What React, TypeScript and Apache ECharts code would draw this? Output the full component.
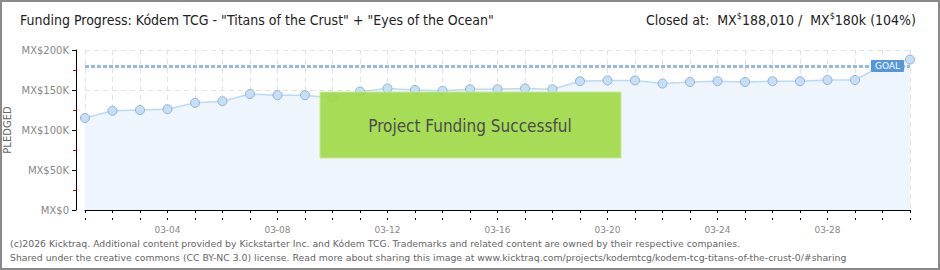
import React, { useEffect, useRef } from "react";
import * as echarts from "echarts";

const dates = [
  "03-01","03-02","03-03","03-04","03-05","03-06","03-07","03-08","03-09","03-10",
  "03-11","03-12","03-13","03-14","03-15","03-16","03-17","03-18","03-19","03-20",
  "03-21","03-22","03-23","03-24","03-25","03-26","03-27","03-28","03-29","03-30","03-31",
];
const pledged = [
  115000,124000,125000,126000,134000,136000,145000,143500,143500,140000,
  148000,152000,150000,149000,151000,151000,152000,151000,161000,162000,
  162000,158000,160000,161000,160000,161000,161000,162500,162500,181000,188010,
];
const goal = 180000;
const yTicks = [0, 50000, 100000, 150000, 200000];
const titleText = 'Funding Progress: Kódem TCG - "Titans of the Crust" + "Eyes of the Ocean"';
const closedText = "{n|Closed at:  MX}{s|$}{n|188,010 /  MX}{s|$}{n|180k (104%)}";
const footer1 = "(c)2026 Kicktraq. Additional content provided by Kickstarter Inc. and Kódem TCG. Trademarks and related content are owned by their respective companies.";
const footer2 = "Shared under the creative commons (CC BY-NC 3.0) license. Read more about sharing this image at www.kicktraq.com/projects/kodemtcg/kodem-tcg-titans-of-the-crust-0/#sharing";
const bannerText = "Project Funding Successful";

const headFont = "'DejaVu Sans Condensed', sans-serif";
const smallFont = "'DejaVu Sans', sans-serif";

export default function App() {
  const ref = useRef<HTMLDivElement>(null);
  useEffect(() => {
    document.body.style.margin = "0";
    if (!ref.current) return;
    const chart = echarts.init(ref.current, undefined, { renderer: "svg" });
    const grid = { left: 85, right: 30, top: 50, bottom: 60 };
    chart.setOption({
      animation: false,
      backgroundColor: "#ffffff",
      grid,
      xAxis: [
        {
          type: "category",
          data: dates,
          boundaryGap: false,
          position: "bottom",
          offset: 10,
          axisLine: { show: true, lineStyle: { color: "#000", width: 1 } },
          axisTick: { show: true, interval: 0, length: 3, lineStyle: { color: "#000" } },
          axisLabel: {
            interval: (i: number) => i % 4 === 3,
            color: "#888",
            fontSize: 9,
            fontFamily: smallFont,
            margin: 5,
          },
          splitLine: {
            show: true,
            interval: 0,
            lineStyle: { color: "#e2e2e2", type: [5, 4], width: 1 },
          },
        },
        {
          type: "category",
          data: dates,
          boundaryGap: false,
          position: "bottom",
          offset: 10,
          axisLine: { show: false },
          axisTick: { show: true, inside: true, interval: 0, length: 2, lineStyle: { color: "#000" } },
          axisLabel: { show: false },
          splitLine: { show: false },
        },
      ],
      yAxis: {
        type: "value",
        min: yTicks[0],
        max: yTicks[yTicks.length - 1],
        interval: 50000,
        offset: 9,
        axisLine: { show: true, lineStyle: { color: "#000", width: 1 } },
        axisTick: { show: true, length: 4, lineStyle: { color: "#000" } },
        minorTick: { show: true, splitNumber: 2, length: 3, lineStyle: { color: "#e00000" } },
        axisLabel: {
          color: "#888",
          fontSize: 10,
          fontFamily: smallFont,
          margin: 7,
          formatter: (v: number) => (v === 0 ? "MX$0" : "MX$" + v / 1000 + "K"),
        },
        splitLine: { show: true, lineStyle: { color: "#e2e2e2", type: [5, 4], width: 1 } },
      },
      series: [
        {
          type: "line",
          data: pledged,
          symbol: "circle",
          symbolSize: 9,
          showAllSymbol: true,
          lineStyle: { color: "#bcd9f5", width: 1.5 },
          itemStyle: { color: "#c6dff8", borderColor: "#92b1d4", borderWidth: 1 },
          areaStyle: { color: "#eef5fd", opacity: 1 },
          markLine: {
            silent: true,
            symbol: "none",
            data: [{ yAxis: goal }],
            lineStyle: { color: "#93b9e4", width: 3, type: [4, 2] },
            label: {
              show: true,
              formatter: "GOAL",
              position: "insideEnd",
              distance: 6,
              color: "#ffffff",
              fontSize: 9,
              fontFamily: smallFont,
              backgroundColor: "#5597dc",
              padding: [2, 4, 1, 4],
              borderRadius: 1,
            },
          },
          z: 2,
        },
      ],
      graphic: [
        {
          type: "rect",
          shape: { x: 1, y: 1, width: 938, height: 268 },
          style: { fill: "none", stroke: "#8a8a8a", lineWidth: 2 },
          z: 100,
        },
        {
          type: "text",
          x: 20,
          y: 20,
          style: {
            text: titleText,
            fontSize: 14,
            fontFamily: headFont,
            fill: "#222",
            verticalAlign: "middle",
            align: "left",
          },
        },
        {
          type: "text",
          x: 916,
          y: 20,
          style: {
            text: closedText,
            align: "right",
            verticalAlign: "middle",
            fill: "#222",
            rich: {
              n: { fontSize: 14, fontFamily: headFont, fill: "#222", lineHeight: 18 },
              s: { fontSize: 9, fontFamily: headFont, fill: "#222", lineHeight: 18, verticalAlign: "top" },
            },
          },
        },
        {
          type: "text",
          x: 7,
          y: 130,
          rotation: Math.PI / 2,
          style: {
            text: "PLEDGED",
            fontSize: 10,
            fontFamily: smallFont,
            fill: "#666",
            align: "center",
            verticalAlign: "middle",
          },
        },
        {
          type: "rect",
          shape: { x: 320, y: 92, width: 301, height: 66 },
          style: { fill: "rgba(160,217,72,0.92)", stroke: "#c8e89a", lineWidth: 1 },
          z: 50,
        },
        {
          type: "text",
          x: 470,
          y: 126,
          style: {
            text: bannerText,
            fontSize: 17,
            fontFamily: headFont,
            fill: "#4c4c4c",
            align: "center",
            verticalAlign: "middle",
            textShadowColor: "#ffffff",
            textShadowOffsetX: 1,
            textShadowOffsetY: 1,
            textShadowBlur: 0,
          },
          z: 51,
        },
        {
          type: "text",
          x: 10,
          y: 243,
          style: { text: footer1, fontSize: 9.3, fontFamily: smallFont, fill: "#666", verticalAlign: "middle" },
        },
        {
          type: "text",
          x: 10,
          y: 257,
          style: { text: footer2, fontSize: 9.3, fontFamily: smallFont, fill: "#666", verticalAlign: "middle" },
        },
      ],
    });
    return () => chart.dispose();
  }, []);
  return <div ref={ref} style={{ width: 940, height: 270 }} />;
}
